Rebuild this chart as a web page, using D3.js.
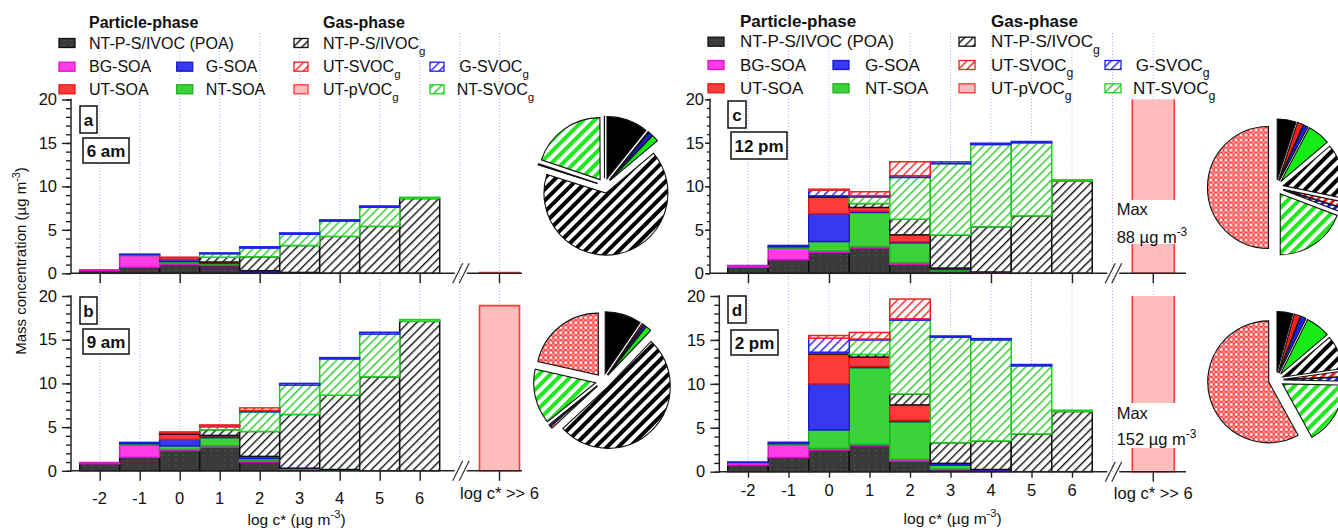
<!DOCTYPE html>
<html><head><meta charset="utf-8">
<script src="https://cdn.jsdelivr.net/npm/d3@7"></script>
<style>
body{margin:0;background:#fff}
svg{display:block}
text{font-family:"Liberation Sans",Arial,sans-serif;fill:#111}
</style>
</head><body>
<svg id="chart" width="1338" height="531"></svg>
<script>
// ---------------- DATA ----------------
const bins = [-2, -1, 0, 1, 2, 3, 4, 5, 6];
const stackKeys = ["POA", "BG-SOA", "NT-SOA", "G-SOA", "UT-SOA", "NT-P-S/IVOCg", "NT-SVOCg", "G-SVOCg", "UT-SVOCg"];

// rows follow stackKeys, columns follow bins (µg m-3)
const A_6am = [
  [0.30, 0.70, 1.00, 0.90, 0.05, 0, 0, 0, 0],
  [0.10, 1.35, 0.15, 0.15, 0, 0.10, 0, 0, 0],
  [0, 0.10, 0.20, 0.10, 0.05, 0, 0, 0, 0],
  [0, 0.05, 0.25, 0.10, 0.20, 0, 0, 0, 0],
  [0, 0, 0.25, 0.05, 0, 0, 0, 0, 0],
  [0, 0, 0, 0.55, 1.60, 3.10, 4.25, 5.40, 8.60],
  [0, 0, 0, 0.40, 1.00, 1.30, 1.75, 2.20, 0.15],
  [0, 0, 0, 0.10, 0.15, 0.15, 0.15, 0.15, 0],
  [0, 0, 0, 0, 0, 0, 0, 0, 0]
];
const B_9am = [
  [0.80, 1.55, 2.30, 2.70, 1.00, 0.10, 0, 0, 0],
  [0.15, 1.40, 0.15, 0.15, 0.15, 0.20, 0, 0, 0],
  [0, 0.15, 0.40, 0.95, 0.25, 0, 0.05, 0, 0],
  [0, 0.15, 0.75, 0.20, 0.20, 0, 0.10, 0, 0],
  [0, 0, 0.60, 0.05, 0.05, 0, 0, 0, 0],
  [0, 0, 0.10, 0.65, 2.85, 6.15, 8.50, 10.75, 17.10],
  [0, 0, 0, 0.35, 2.25, 3.35, 4.15, 4.90, 0.20],
  [0, 0, 0.05, 0.05, 0.15, 0.20, 0.15, 0.20, 0],
  [0, 0, 0.10, 0.15, 0.30, 0, 0, 0, 0]
];
const C_12pm = [
  [0.70, 1.55, 2.40, 2.90, 1.05, 0.25, 0, 0, 0],
  [0.20, 1.35, 0.15, 0.15, 0.15, 0.05, 0.15, 0, 0],
  [0, 0.15, 1.10, 3.95, 2.30, 0.15, 0, 0, 0],
  [0, 0.15, 3.20, 0.12, 0.12, 0.15, 0, 0, 0],
  [0, 0, 1.90, 0.45, 0.80, 0, 0, 0, 0],
  [0, 0, 0.15, 0.45, 1.80, 3.80, 5.20, 6.60, 10.60],
  [0, 0, 0, 0.75, 4.80, 8.20, 9.45, 8.40, 0.15],
  [0, 0, 0.65, 0.15, 0.20, 0.20, 0.15, 0.15, 0],
  [0, 0, 0.12, 0.45, 1.60, 0, 0, 0, 0]
];
const D_2pm = [
  [0.75, 1.60, 2.45, 2.95, 1.20, 0.25, 0.10, 0, 0],
  [0.30, 1.45, 0.20, 0.15, 0.20, 0.05, 0.10, 0, 0],
  [0, 0.15, 2.10, 8.75, 4.30, 0.45, 0, 0, 0],
  [0.05, 0.15, 5.25, 0.15, 0.15, 0.20, 0.05, 0, 0],
  [0, 0, 3.40, 1.05, 1.75, 0, 0, 0, 0],
  [0, 0, 0.15, 0.30, 1.25, 2.35, 3.25, 4.30, 6.85],
  [0, 0, 0.05, 1.65, 8.40, 12.00, 11.50, 7.75, 0.15],
  [0, 0, 1.60, 0.10, 0.15, 0.15, 0.15, 0.15, 0],
  [0, 0, 0.30, 0.75, 2.25, 0, 0, 0, 0]
];
// UT-pVOCg at log c* >> 6, per panel a,b,c,d
const pVOC = [0.1, 18.9, 88, 152];

// pie composition (%), clockwise from 12 o'clock
const pieKeys = ["POA", "UT-SOA", "G-SOA", "NT-SOA", "NT-P-S/IVOCg", "UT-SVOCg", "G-SVOCg", "NT-SVOCg", "UT-pVOCg"];
const PIE_a = [10.8, 0.3, 1.0, 1.8, 66.0, 0.1, 0.2, 19.8, 0.05];
const PIE_b = [9.5, 0.5, 0.6, 1.5, 51.0, 0.6, 0.5, 14.3, 21.5];
const PIE_c = [5.0, 1.6, 1.2, 6.0, 14.5, 1.5, 1.0, 19.2, 50.0];
const PIE_d = [4.2, 1.7, 1.4, 6.5, 9.0, 1.5, 1.0, 16.7, 58.0];

const yTicks = [0, 5, 10, 15, 20];
const panelLetters = ["a", "b", "c", "d"];
const panelTimes = ["6 am", "9 am", "12 pm", "2 pm"];
const maxLabels = [null, null, "88", "152"];

const particleLegend = ["NT-P-S/IVOC (POA)", "BG-SOA", "G-SOA", "UT-SOA", "NT-SOA"];
const gasLegend = ["NT-P-S/IVOC", "UT-SVOC", "G-SVOC", "UT-pVOC", "NT-SVOC"];

// ---------------- STYLE ----------------
const svg = d3.select("#chart");
svg.append("rect").attr("width", 1338).attr("height", 531).attr("fill", "#fff");
const defs = svg.append("defs");

function hatch(id, color, spacing, width, bg) {
  const p = defs.append("pattern").attr("id", id).attr("patternUnits", "userSpaceOnUse")
    .attr("width", spacing).attr("height", spacing).attr("patternTransform", "rotate(45)");
  p.append("rect").attr("width", spacing).attr("height", spacing).attr("fill", bg || "#fff");
  p.append("rect").attr("width", width).attr("height", spacing).attr("fill", color);
}
hatch("hBlack", "#111", 6, 1.4);
hatch("hGreen", "#22cc22", 6, 1.4);
hatch("hBlue", "#2020ee", 6, 1.4);
hatch("hRed", "#ee2020", 6, 1.4);
hatch("pBlack", "#000", 8, 4);
hatch("pGreen", "#1ee81e", 8, 4);
hatch("pBlue", "#1a1aff", 6, 3);
hatch("pRed", "#ff1a1a", 6, 3);
(function () {
  const p = defs.append("pattern").attr("id", "poa").attr("patternUnits", "userSpaceOnUse").attr("width", 7).attr("height", 5);
  p.append("rect").attr("width", 7).attr("height", 5).attr("fill", "#3a3a3a");
  p.append("rect").attr("width", 2).attr("height", 1).attr("fill", "#4e4e4e");
  const k = defs.append("pattern").attr("id", "pink").attr("patternUnits", "userSpaceOnUse").attr("width", 5).attr("height", 5);
  k.append("rect").attr("width", 5).attr("height", 5).attr("fill", "#ff4646");
  k.append("circle").attr("cx", 2.5).attr("cy", 2.5).attr("r", 1.5).attr("fill", "#fff");
  [[0, 0], [5, 0], [0, 5], [5, 5]].forEach(c => k.append("circle").attr("cx", c[0]).attr("cy", c[1]).attr("r", 0.9).attr("fill", "#ffd0d0"));
})();

const barStyle = {
  "POA": { fill: "url(#poa)", stroke: "#111" },
  "BG-SOA": { fill: "#ff3de6", stroke: "#e010c8" },
  "NT-SOA": { fill: "#3ad43a", stroke: "#1fae1f" },
  "G-SOA": { fill: "#3838f0", stroke: "#1a1ad0" },
  "UT-SOA": { fill: "#ff3a3a", stroke: "#e01818" },
  "NT-P-S/IVOCg": { fill: "url(#hBlack)", stroke: "#111" },
  "NT-SVOCg": { fill: "url(#hGreen)", stroke: "#22cc22" },
  "G-SVOCg": { fill: "url(#hBlue)", stroke: "#2020ee" },
  "UT-SVOCg": { fill: "url(#hRed)", stroke: "#ee2020" },
  "UT-pVOCg": { fill: "#ffbcbc", stroke: "#ff3838" }
};
const pieFill = {
  "POA": "#000", "UT-SOA": "#ff1a1a", "G-SOA": "#1a1aff", "NT-SOA": "#16ec16",
  "NT-P-S/IVOCg": "url(#pBlack)", "UT-SVOCg": "url(#pRed)", "G-SVOCg": "url(#pBlue)",
  "NT-SVOCg": "url(#pGreen)", "UT-pVOCg": "url(#pink)"
};

// text helper with sub/superscripts
function rich(g, x, y, parts, size, anchor, weight) {
  const t = g.append("text").attr("x", x).attr("y", y).attr("font-size", size)
    .attr("text-anchor", anchor || "start");
  if (weight) t.attr("font-weight", weight);
  let cur = 0;
  parts.forEach(p => {
    if (typeof p === "string") {
      t.append("tspan").attr("dy", -cur).text(p); cur = 0;
    } else {
      const target = p.sup !== undefined ? -size * 0.42 : size * 0.38;
      t.append("tspan").attr("dy", target - cur).attr("font-size", size * 0.72).text(p.sup !== undefined ? p.sup : p.sub);
      cur = target;
    }
  });
  return t;
}

// ---------------- LAYOUT ----------------
const panels = [
  { data: A_6am, pie: PIE_a, axX: 71, r0: 79.7, r1: 439.7, yB: 273.3, yT: 99.5, pvX: 499.5, pvW: 40, segEnd: 522,
    tickVals: [-2, 0, 2, 4, 6], tLen: 10, labels: false, yMaj: 9, yMin: 5, yPad: 5,
    letter: [80, 106, 17, 27], time: [83, 138, 46, 25], pieC: [604.5, 185.7], pieR: 62 },
  { data: B_9am, pie: PIE_b, axX: 71, r0: 79.7, r1: 439.7, yB: 470.8, yT: 296, pvX: 499.5, pvW: 40, segEnd: 522,
    tickVals: bins, tLen: 10, labels: true, lblY: 498, titleY: 524.5, yMaj: 9, yMin: 5, yPad: 5,
    letter: [80, 297, 17, 27], time: [83, 329, 46, 25], pieC: [603, 381], pieR: 62 },
  { data: C_12pm, pie: PIE_c, axX: 710, r0: 727.75, r1: 1092.25, yB: 273.3, yT: 99.3, pvX: 1153.3, pvW: 42, segEnd: 1186,
    tickVals: [-2, 0, 2, 4, 6], tLen: 10, labels: false, yMaj: 5, yMin: 3, yPad: 1,
    letter: [728, 101, 18, 27], time: [731, 132, 56, 27], pieC: [1276, 187.5], pieR: 61,
    maxY: [209, 236.7], maxBox: [200, 244] },
  { data: D_2pm, pie: PIE_d, axX: 719.3, r0: 727.75, r1: 1092.25, yB: 471.7, yT: 296, pvX: 1153.3, pvW: 42, segEnd: 1186,
    tickVals: bins, tLen: 6, labels: true, lblY: 490, titleY: 524, yMaj: 9, yMin: 5, yPad: 5,
    letter: [728, 296, 18, 27], time: [731, 330, 47, 25], pieC: [1276, 380], pieR: 61,
    maxY: [413, 439], maxBox: [403, 448] }
];

// ---------------- GRIDLINES ----------------
const gridG = svg.append("g");
[[panels[0], 33, 471], [panels[2], 33, 472]].forEach(([p, y1, y2]) => {
  const x = d3.scaleLinear().domain([-2.5, 6.5]).range([p.r0, p.r1]);
  const gx = d3.range(-2, 8).map(v => x(v)).concat([p.pvX]);
  gridG.selectAll(null).data(gx).enter().append("line")
    .attr("x1", d => d).attr("x2", d => d).attr("y1", y1).attr("y2", y2)
    .attr("stroke", "#b4b4f4").attr("stroke-width", 1).attr("stroke-dasharray", "1,2");
});

// ---------------- PANELS ----------------
panels.forEach((p, pi) => {
  const g = svg.append("g");
  const x = d3.scaleLinear().domain([-2.5, 6.5]).range([p.r0, p.r1]);
  const y = d3.scaleLinear().domain([0, 20]).range([p.yB, p.yT]);

  // stacked bars
  const rows = bins.map((b, i) => {
    const o = { bin: b };
    stackKeys.forEach((k, ki) => { o[k] = p.data[ki][i]; });
    return o;
  });
  const stacked = d3.stack().keys(stackKeys)(rows);
  stacked.forEach(layer => {
    const st = barStyle[layer.key];
    g.selectAll(null).data(layer.filter(d => d[1] - d[0] > 0)).enter().append("rect")
      .attr("x", d => x(d.data.bin - 0.5)).attr("width", d => x(d.data.bin + 0.5) - x(d.data.bin - 0.5))
      .attr("y", d => y(d[1])).attr("height", d => y(d[0]) - y(d[1]))
      .attr("fill", st.fill).attr("stroke", st.stroke).attr("stroke-width", 1.5);
  });

  // UT-pVOCg bar
  const pv = pVOC[pi];
  const top = y(Math.min(pv, 20));
  const bx0 = p.pvX - p.pvW / 2, bx1 = p.pvX + p.pvW / 2;
  g.append("rect").attr("x", bx0).attr("y", top).attr("width", p.pvW).attr("height", p.yB - top)
    .attr("fill", barStyle["UT-pVOCg"].fill);
  const outline = pv <= 20
    ? `M${bx0},${p.yB}V${top}H${bx1}V${p.yB}Z`
    : `M${bx0},${top}V${p.yB}H${bx1}V${top}`;
  g.append("path").attr("d", outline).attr("fill", "none").attr("stroke", barStyle["UT-pVOCg"].stroke).attr("stroke-width", 1.6);

  if (maxLabels[pi]) {
    g.append("rect").attr("x", 1114).attr("y", p.maxBox[0]).attr("width", 100).attr("height", p.maxBox[1] - p.maxBox[0]).attr("fill", "#fff");
    rich(g, 1116.7, p.maxY[0] + 6, ["Max"], 16.5);
    rich(g, 1116.7, p.maxY[1] + 6, [maxLabels[pi] + " µg m", { sup: "-3" }], 16.5);
  }

  // y axis
  const yMinor = g.append("g").attr("transform", `translate(${p.axX},0)`)
    .call(d3.axisLeft(y).tickValues(d3.range(0, 21, 1)).tickSize(p.yMin).tickFormat(""));
  yMinor.select(".domain").remove();
  const yMajor = g.append("g").attr("transform", `translate(${p.axX},0)`)
    .call(d3.axisLeft(y).tickValues(yTicks).tickSize(p.yMaj).tickPadding(p.yPad).tickSizeOuter(0));
  yMajor.select(".domain").remove();
  [yMinor, yMajor].forEach(a => a.selectAll("line").attr("stroke", "#222").attr("stroke-width", 1.4));
  yMajor.selectAll("text").attr("font-size", 16.5).attr("font-family", "Liberation Sans, Arial, sans-serif").attr("fill", "#111");
  g.append("line").attr("x1", p.axX).attr("x2", p.axX).attr("y1", p.yT - 0.7).attr("y2", p.yB + 0.7)
    .attr("stroke", "#222").attr("stroke-width", 1.5);

  // x axis with break
  const brk = p.r1 + 13;
  g.append("line").attr("x1", p.axX).attr("x2", brk + 2).attr("y1", p.yB).attr("y2", p.yB).attr("stroke", "#222").attr("stroke-width", 1.5);
  g.append("line").attr("x1", brk + 14).attr("x2", p.segEnd).attr("y1", p.yB).attr("y2", p.yB).attr("stroke", "#222").attr("stroke-width", 1.5);
  [0, 6.5].forEach(o => g.append("line").attr("x1", brk + o).attr("y1", p.yB + 10).attr("x2", brk + o + 10).attr("y2", p.yB - 10)
    .attr("stroke", "#333").attr("stroke-width", 1.2));

  const xAx = g.append("g").attr("transform", `translate(0,${p.yB})`)
    .call(d3.axisBottom(x).tickValues(p.tickVals).tickSize(p.tLen).tickSizeOuter(0).tickFormat(""));
  xAx.select(".domain").remove();
  xAx.selectAll("line").attr("stroke", "#222").attr("stroke-width", 1.4);
  g.append("line").attr("x1", p.pvX).attr("x2", p.pvX).attr("y1", p.yB).attr("y2", p.yB + 10).attr("stroke", "#222").attr("stroke-width", 1.4);

  if (p.labels) {
    g.selectAll(null).data(bins).enter().append("text")
      .attr("x", d => x(d)).attr("y", p.lblY + 5.6).attr("text-anchor", "middle").attr("font-size", 16.5)
      .text(d => d);
    rich(g, p.pvX, 498.6, ["log c* >> 6"], 16.5, "middle");
    rich(g, (p.axX + p.segEnd) / 2, p.titleY, ["log c* (µg m", { sup: "-3" }, ")"], 15.5, "middle");
  }

  // panel tags
  [[p.letter, panelLetters[pi]], [p.time, panelTimes[pi]]].forEach(([b, txt]) => {
    g.append("rect").attr("x", b[0]).attr("y", b[1]).attr("width", b[2]).attr("height", b[3])
      .attr("fill", "#fff").attr("stroke", "#111").attr("stroke-width", 1.5);
    rich(g, b[0] + b[2] / 2, b[1] + b[3] / 2 + 6, [txt], 17, "middle", "bold");
  });

  // pie
  const pieGen = d3.pie().sort(null).value(d => d.v);
  const arcs = pieGen(pieKeys.map((k, i) => ({ k: k, v: p.pie[i] })));
  const arcGen = d3.arc().innerRadius(0).outerRadius(p.pieR);
  const pg = g.append("g").attr("transform", `translate(${p.pieC[0]},${p.pieC[1]})`);
  const ex = 7.5;
  pg.selectAll(null).data(arcs).enter().append("path")
    .attr("transform", d => {
      const m = (d.startAngle + d.endAngle) / 2;
      return `translate(${Math.sin(m) * ex},${-Math.cos(m) * ex})`;
    })
    .attr("d", arcGen)
    .attr("fill", d => pieFill[d.data.k])
    .attr("stroke", "#111").attr("stroke-width", 1.1);
});

// y axis title
const yt = svg.append("g").attr("transform", "translate(26,261) rotate(-90)");
rich(yt, 0, 0, ["Mass concentration (µg m", { sup: "-3" }, ")"], 15, "middle");

// ---------------- LEGENDS ----------------
const legendLayouts = [
  { hY: 22.7, rows: [43, 66.7, 89.3], font: 16, c1s: 59, c1w: 16, c1t: 89, c2s: 176.7, c2t: 205.7,
    g1s: 294, g1w: 14, g1t: 323, g2s: 430, g2t: [459.3, 456.7] },
  { hY: 21.7, rows: [41.7, 65, 88.3], font: 17, c1s: 708, c1w: 16, c1t: 740, c2s: 833, c2t: 865,
    g1s: 959, g1w: 16, g1t: 991, g2s: 1105, g2t: [1135.7, 1133] }
];
const particleKeys = ["POA", "BG-SOA", "G-SOA", "UT-SOA", "NT-SOA"];
const gasKeys = ["NT-P-S/IVOCg", "UT-SVOCg", "G-SVOCg", "UT-pVOCg", "NT-SVOCg"];
legendLayouts.forEach(L => {
  const g = svg.append("g");
  const f = L.font;
  rich(g, L.c1t, L.hY + 5.5, ["Particle-phase"], f, "start", "bold");
  rich(g, L.g1t, L.hY + 5.5, ["Gas-phase"], f, "start", "bold");
  const pPos = [[0, 0], [1, 0], [1, 1], [2, 0], [2, 1]];
  particleKeys.forEach((k, i) => {
    const [r, c] = pPos[i];
    const sx = c ? L.c2s : L.c1s, tx = c ? L.c2t : L.c1t, cy = L.rows[r];
    g.append("rect").attr("x", sx).attr("y", cy - 4.5).attr("width", L.c1w).attr("height", 9)
      .attr("fill", barStyle[k].fill).attr("stroke", barStyle[k].stroke).attr("stroke-width", 1.3);
    rich(g, tx, cy + 5.5, [particleLegend[i]], f);
  });
  gasKeys.forEach((k, i) => {
    const [r, c] = pPos[i];
    const sx = c ? L.g2s : L.g1s, tx = c ? L.g2t[r - 1] : L.g1t, cy = L.rows[r];
    g.append("rect").attr("x", sx).attr("y", cy - 4.5).attr("width", L.g1w).attr("height", 9)
      .attr("fill", barStyle[k].fill).attr("stroke", barStyle[k].stroke).attr("stroke-width", 1.3);
    rich(g, tx, cy + 5.5, [gasLegend[i], { sub: "g" }], f);
  });
});
</script>
</body></html>
